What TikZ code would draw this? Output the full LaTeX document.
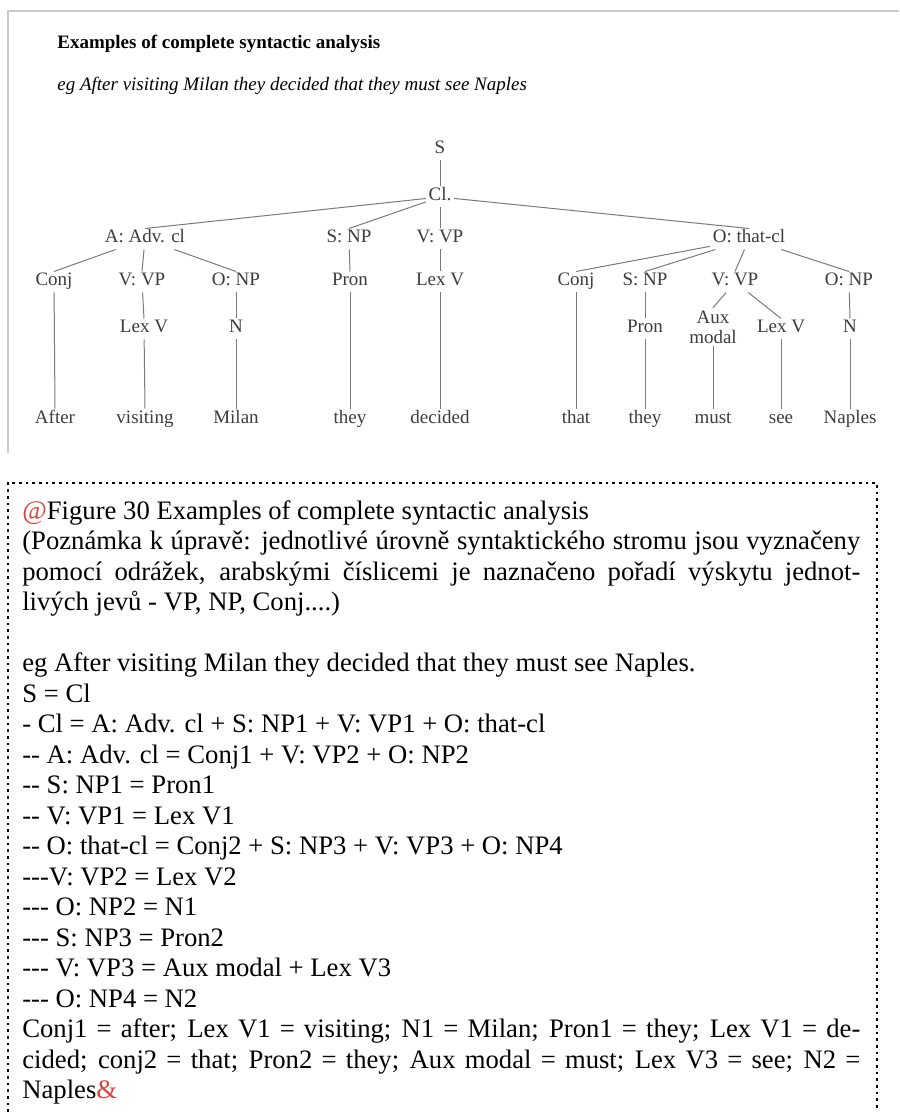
\documentclass[tikz,border=0pt]{standalone}
\usepackage{fontspec}
\setmainfont{Liberation Serif}[Ligatures=TeXOff]
\usepackage{tikz}
\definecolor{frameGray}{HTML}{C9C9C9}
\definecolor{treeInk}{HTML}{3C3C3C}
\definecolor{treeLine}{HTML}{7A7A7A}
\definecolor{noteRed}{HTML}{E0403A}
\setlength{\parindent}{0pt}
\hyphenpenalty=10000

\begin{document}
\begin{tikzpicture}[x=0.6pt, y=-0.6pt,
  cat/.style={text=treeInk, font=\fontsize{11.4}{12}\selectfont, text height=0.7em, text depth=0.22em, inner sep=1.5pt},
  stack/.style={text=treeInk, font=\fontsize{11.4}{12}\selectfont, align=center, inner sep=1.5pt},
  rel/.style={draw=treeLine, line width=0.6pt},
  frame/.style={draw=frameGray, line width=1.6pt},
  dots/.style={draw=black, line width=1.6pt, dash pattern=on 1.6pt off 2.4pt}
]
  \useasboundingbox (0,0) rectangle (899,1112);
  \draw[frame] (899,11) -- (8,11) -- (8,453);

  \node[anchor=base west, inner sep=0pt, font=\bfseries\fontsize{11.4}{12}\selectfont] (title) at (57,49) {Examples of complete syntactic analysis};
  \node[anchor=base west, inner sep=0pt, font=\itshape\fontsize{11.4}{12}\selectfont] (example) at (57,91) {eg After visiting Milan they decided that they must see Naples};

  % tree
  \node[cat] (s) at (440,150) {S};
  \node[cat] (cl) at (440,197) {Cl.};
  \node[cat] (advcl) at (145,239) {A: Adv. cl};
  \node[cat] (subj) at (349,239) {S: NP};
  \node[cat] (verb) at (440,239) {V: VP};
  \node[cat] (thatcl) at (749,239) {O: that-cl};
  \node[cat] (conja) at (54,282) {Conj};
  \node[cat] (vpa) at (142,282) {V: VP};
  \node[cat] (npa) at (236,282) {O: NP};
  \node[cat] (prona) at (350,282) {Pron};
  \node[cat] (lexa) at (440,282) {Lex V};
  \node[cat] (conjb) at (576,282) {Conj};
  \node[cat] (npb) at (645,282) {S: NP};
  \node[cat] (vpb) at (735,282) {V: VP};
  \node[cat] (npc) at (849,282) {O: NP};
  \node[cat] (lexb) at (144,329) {Lex V};
  \node[cat] (na) at (236,329) {N};
  \node[cat] (pronb) at (645,329) {Pron};
  \node[stack] (aux) at (713,327) {Aux\\modal};
  \node[cat] (lexc) at (781,329) {Lex V};
  \node[cat] (nb) at (850,329) {N};
  \node[cat] (after) at (55,419) {After};
  \node[cat] (visiting) at (145,419) {visiting};
  \node[cat] (milan) at (236,419) {Milan};
  \node[cat] (they) at (350,419) {they};
  \node[cat] (decided) at (440,419) {decided};
  \node[cat] (that) at (576,419) {that};
  \node[cat] (theyb) at (645,419) {they};
  \node[cat] (must) at (713,419) {must};
  \node[cat] (see) at (781,419) {see};
  \node[cat] (naples) at (850,419) {Naples};

  \draw[rel] (s) -- (cl.north);
  \draw[rel] (cl) -- (advcl.north);
  \draw[rel] (cl) -- (subj.north);
  \draw[rel] (cl) -- (verb.north);
  \draw[rel] (cl) -- (thatcl.north);
  \draw[rel] (advcl) -- (conja.north);
  \draw[rel] (advcl) -- (vpa.north);
  \draw[rel] (advcl) -- (npa.north);
  \draw[rel] (subj) -- (prona.north);
  \draw[rel] (verb) -- (lexa.north);
  \draw[rel] (thatcl) -- (conjb.north);
  \draw[rel] (thatcl) -- (npb.north);
  \draw[rel] (thatcl) -- (vpb.north);
  \draw[rel] (thatcl) -- (npc.north);
  \draw[rel] (vpa) -- (lexb.north);
  \draw[rel] (npa) -- (na.north);
  \draw[rel] (npb) -- (pronb.north);
  \draw[rel] (vpb) -- (aux.north);
  \draw[rel] (vpb) -- (lexc.north);
  \draw[rel] (npc) -- (nb.north);
  \draw[rel] (conja) -- (after.north);
  \draw[rel] (lexb) -- (visiting.north);
  \draw[rel] (na) -- (milan.north);
  \draw[rel] (prona) -- (they.north);
  \draw[rel] (lexa) -- (decided.north);
  \draw[rel] (conjb) -- (that.north);
  \draw[rel] (pronb) -- (theyb.north);
  \draw[rel] (aux) -- (must.north);
  \draw[rel] (lexc) -- (see.north);
  \draw[rel] (nb) -- (naples.north);

  % editorial note
  \draw[dots] (8,1112) -- (8,483) -- (877,483) -- (877,1112);
  \node[anchor=base west, inner sep=0pt, text width=502.8pt, align=justify,
        font=\fontsize{16}{18.3}\selectfont] (note) at (22,519) {%
    \textcolor{noteRed}{@}Figure 30 Examples of complete syntactic analysis\par
    (Poznámka k úpravě: jednotlivé úrovně syntaktického stromu jsou vyznačeny\linebreak
    pomocí odrážek, arabskými číslicemi je naznačeno pořadí výskytu jednot-\linebreak
    livých jevů - VP, NP, Conj....)\par
    \strut\par
    eg After visiting Milan they decided that they must see Naples.\par
    S = Cl\par
    - Cl = A: Adv. cl + S: NP1 + V: VP1 + O: that-cl\par
    -- A: Adv. cl = Conj1 + V: VP2 + O: NP2\par
    -- S: NP1 = Pron1\par
    -- V: VP1 = Lex V1\par
    -- O: that-cl = Conj2 + S: NP3 + V: VP3 + O: NP4\par
    ---V: VP2 = Lex V2\par
    --- O: NP2 = N1\par
    --- S: NP3 = Pron2\par
    --- V: VP3 = Aux modal + Lex V3\par
    --- O: NP4 = N2\par
    Conj1 = after; Lex V1 = visiting; N1 = Milan; Pron1 = they; Lex V1 = de-\linebreak
    cided; conj2 = that; Pron2 = they; Aux modal = must; Lex V3 = see; N2 =\linebreak
    Naples\textcolor{noteRed}{\&}};
\end{tikzpicture}
\end{document}
